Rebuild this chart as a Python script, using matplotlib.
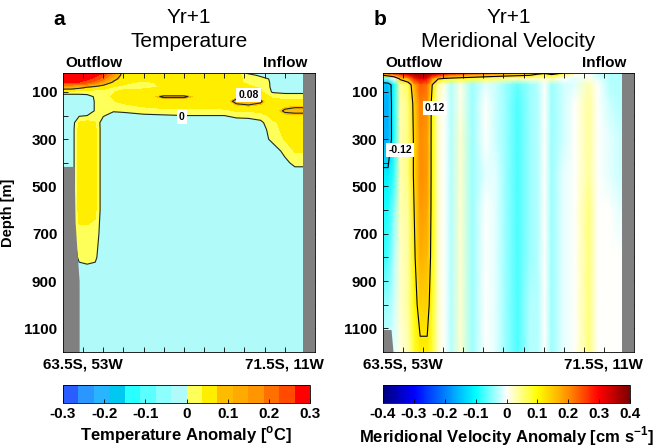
import matplotlib
matplotlib.use("Agg")
import matplotlib.pyplot as plt
import numpy as np
from matplotlib.colors import LinearSegmentedColormap

plt.rcParams['font.family'] = ['Liberation Sans', 'DejaVu Sans']
plt.rcParams['mathtext.fontset'] = 'custom'
plt.rcParams['mathtext.rm'] = 'Liberation Sans'
plt.rcParams['mathtext.bf'] = 'Liberation Sans:bold'

# ---- panel a: temperature anomaly section (station index vs depth) ----
temp_x = [0, 0.4, 0.8, 1.2, 1.6, 2.0, 2.5, 3.0, 4.0, 5.0, 6.0, 7.0, 8.0, 8.6, 9.2, 9.8, 10.4, 11.0, 11.5, 12.0]
temp_depth = [20, 30, 45, 60, 80, 100, 120, 140, 160, 180, 200, 230, 260, 300, 350, 400, 450, 500, 600, 700,
              800, 900, 1000, 1200]
temp_anom = [
    [0.29, 0.29, 0.29, 0.29, 0.29, 0.27, 0.18, 0.05, 0.06, 0.06, 0.06, 0.06, 0.05, 0.04, -0.01, -0.02, -0.02, -0.02, -0.02, -0.02],
    [0.29, 0.29, 0.29, 0.28, 0.27, 0.24, 0.15, 0.05, 0.06, 0.06, 0.06, 0.05, 0.05, 0.05, 0.02, -0.01, -0.02, -0.02, -0.02, -0.02],
    [0.28, 0.28, 0.28, 0.27, 0.25, 0.20, 0.10, 0.05, 0.05, 0.05, 0.05, 0.05, 0.045, 0.045, 0.03, 0.02, -0.01, -0.02, -0.02, -0.02],
    [0.27, 0.27, 0.26, 0.24, 0.20, 0.13, 0.07, 0.045, 0.03, 0.045, 0.05, 0.045, 0.04, 0.04, 0.035, 0.03, -0.01, -0.02, -0.02, -0.02],
    [0.12, 0.12, 0.10, 0.08, 0.06, 0.045, 0.035, 0.03, 0.03, 0.04, 0.045, 0.05, 0.05, 0.045, 0.04, 0.035, -0.01, -0.02, -0.02, -0.02],
    [0.02, 0.02, 0.02, 0.02, 0.02, 0.03, 0.035, 0.045, 0.05, 0.055, 0.055, 0.05, 0.05, 0.05, 0.045, 0.045, -0.005, -0.01, -0.01, -0.01],
    [-0.02, -0.02, -0.02, -0.015, 0.005, 0.03, 0.04, 0.05, 0.06, 0.085, 0.085, 0.06, 0.06, 0.07, 0.07, 0.06, 0.03, 0.02, 0.02, 0.02],
    [-0.02, -0.02, -0.02, -0.02, 0.003, 0.02, 0.035, 0.045, 0.05, 0.06, 0.06, 0.06, 0.06, 0.09, 0.095, 0.085, 0.05, 0.05, 0.05, 0.05],
    [-0.02, -0.02, -0.02, -0.02, 0.003, 0.015, 0.025, 0.03, 0.04, 0.045, 0.045, 0.045, 0.05, 0.07, 0.075, 0.07, 0.06, 0.07, 0.075, 0.075],
    [-0.02, -0.02, -0.02, -0.02, 0.003, 0.01, 0.005, 0.01, 0.025, 0.03, 0.03, 0.03, 0.03, 0.04, 0.04, 0.05, 0.06, 0.085, 0.09, 0.09],
    [-0.02, -0.02, -0.005, 0.0, 0.01, 0.005, -0.02, -0.02, -0.01, -0.005, 0.0, 0.0, 0.0, 0.01, 0.01, 0.02, 0.05, 0.07, 0.07, 0.07],
    [-0.02, -0.03, 0.04, 0.05, 0.04, -0.03, -0.02, -0.02, -0.02, -0.02, -0.02, -0.02, -0.02, -0.02, -0.015, -0.01, 0.03, 0.05, 0.06, 0.06],
    [-0.02, -0.03, 0.05, 0.05, 0.045, -0.03, -0.02, -0.02, -0.02, -0.02, -0.02, -0.02, -0.02, -0.02, -0.02, -0.02, 0.02, 0.05, 0.05, 0.05],
    [-0.02, -0.03, 0.05, 0.05, 0.045, -0.03, -0.02, -0.02, -0.02, -0.02, -0.02, -0.02, -0.02, -0.02, -0.02, -0.02, 0.01, 0.04, 0.05, 0.05],
    [-0.02, -0.03, 0.05, 0.05, 0.045, -0.03, -0.02, -0.02, -0.02, -0.02, -0.02, -0.02, -0.02, -0.02, -0.02, -0.02, -0.02, 0.01, 0.04, 0.04],
    [-0.02, -0.03, 0.05, 0.05, 0.045, -0.03, -0.02, -0.02, -0.02, -0.02, -0.02, -0.02, -0.02, -0.02, -0.02, -0.02, -0.02, -0.01, 0.01, 0.01],
    [-0.02, -0.03, 0.05, 0.05, 0.045, -0.03, -0.02, -0.02, -0.02, -0.02, -0.02, -0.02, -0.02, -0.02, -0.02, -0.02, -0.02, -0.02, -0.02, -0.02],
    [-0.02, -0.03, 0.05, 0.05, 0.045, -0.03, -0.02, -0.02, -0.02, -0.02, -0.02, -0.02, -0.02, -0.02, -0.02, -0.02, -0.02, -0.02, -0.02, -0.02],
    [-0.02, -0.03, 0.05, 0.05, 0.045, -0.03, -0.02, -0.02, -0.02, -0.02, -0.02, -0.02, -0.02, -0.02, -0.02, -0.02, -0.02, -0.02, -0.02, -0.02],
    [-0.02, -0.02, 0.03, 0.03, 0.025, -0.03, -0.02, -0.02, -0.02, -0.02, -0.02, -0.02, -0.02, -0.02, -0.02, -0.02, -0.02, -0.02, -0.02, -0.02],
    [-0.02, -0.02, 0.005, 0.008, 0.005, -0.02, -0.02, -0.02, -0.02, -0.02, -0.02, -0.02, -0.02, -0.02, -0.02, -0.02, -0.02, -0.02, -0.02, -0.02],
    [-0.02] * 20,
    [-0.02] * 20,
    [-0.02] * 20,
]
temp_colors = ['#2a5cff', '#2a96ff', '#28b4ff', '#00c8f0', '#28ffff', '#5affff', '#8effff', '#b0fafa',
               '#ffff5a', '#ffee00', '#ffbb00', '#ffaa00', '#ff9500', '#ff7000', '#ff4a00', '#ff0000']
temp_levels = np.linspace(-0.3, 0.3, 17)
temp_ticks = [-0.3, -0.2, -0.1, 0, 0.1, 0.2, 0.3]
temp_ticklabels = ['-0.3', '-0.2', '-0.1', '0', '0.1', '0.2', '0.3']
temp_contours = [0, 0.08]
temp_labels = [(9.2, 113, '0.08'), (5.9, 206, '0')]

# land masks (depth, x extent)
land_a_depth = [415, 650, 780, 900, 1200]
land_a_x = [0.55, 0.6, 0.7, 0.8, 0.8]

# ---- panel b: meridional velocity anomaly, column profiles ----
vel_x = [0.0, 0.25, 0.55, 0.85, 1.25, 1.55, 1.85, 2.2, 2.45, 2.75, 3.05, 3.4, 3.85, 4.45, 5.1, 5.6, 6.1, 6.7,
         7.3, 7.7, 8.05, 8.4, 8.95, 9.55, 10.25, 10.7, 11.3, 11.8, 12.1]
vel_depth = [20, 30, 45, 70, 150, 300, 450, 600, 800, 1000, 1200]
vel_cols = [
    [0.30, 0.12, -0.06, -0.15, -0.16, -0.16, -0.11, -0.09, -0.08, -0.04, -0.02],
    [0.32, 0.15, -0.05, -0.15, -0.16, -0.16, -0.11, -0.09, -0.07, -0.04, -0.02],
    [0.34, 0.20, 0.0, -0.09, -0.09, -0.09, -0.08, -0.05, -0.03, -0.02, -0.01],
    [0.36, 0.25, 0.13, 0.04, 0.03, 0.03, 0.03, 0.03, 0.02, 0.02, 0.01],
    [0.37, 0.30, 0.18, 0.07, 0.05, 0.05, 0.05, 0.04, 0.04, 0.04, 0.03],
    [0.38, 0.35, 0.28, 0.17, 0.14, 0.13, 0.13, 0.12, 0.11, 0.10, 0.08],
    [0.38, 0.36, 0.32, 0.24, 0.21, 0.20, 0.20, 0.19, 0.17, 0.14, 0.11],
    [0.38, 0.36, 0.30, 0.22, 0.20, 0.19, 0.19, 0.18, 0.16, 0.14, 0.11],
    [0.37, 0.32, 0.20, 0.12, 0.10, 0.10, 0.10, 0.10, 0.10, 0.09, 0.08],
    [0.36, 0.28, 0.12, 0.04, 0.02, 0.02, 0.02, 0.02, 0.02, 0.02, 0.02],
    [0.34, 0.25, 0.10, 0.01, 0.0, 0.0, 0.0, 0.0, 0.0, 0.0, 0.0],
    [0.32, 0.22, 0.09, -0.03, -0.03, -0.03, -0.03, -0.03, -0.03, -0.03, -0.03],
    [0.30, 0.20, 0.08, 0.01, 0.01, 0.02, 0.02, 0.02, 0.02, 0.02, 0.02],
    [0.27, 0.18, 0.07, -0.04, -0.04, -0.04, -0.04, -0.04, -0.04, -0.04, -0.04],
    [0.25, 0.16, 0.06, -0.01, 0.0, 0.0, -0.01, 0.0, 0.0, 0.0, 0.0],
    [0.22, 0.15, 0.05, -0.02, -0.02, -0.02, -0.01, -0.01, -0.01, -0.01, -0.01],
    [0.20, 0.14, 0.04, -0.04, -0.04, -0.04, -0.04, -0.04, -0.04, -0.04, -0.04],
    [0.18, 0.13, 0.03, -0.06, -0.07, -0.07, -0.07, -0.07, -0.07, -0.07, -0.07],
    [0.16, 0.12, 0.02, -0.04, -0.04, -0.04, -0.04, -0.04, -0.04, -0.03, -0.03],
    [0.14, 0.10, 0.02, -0.03, -0.03, -0.03, -0.03, -0.03, -0.03, -0.03, -0.03],
    [0.13, 0.08, 0.02, 0.0, 0.0, 0.0, 0.0, 0.0, 0.0, 0.0, 0.0],
    [0.16, 0.10, 0.03, -0.04, -0.04, -0.04, -0.04, -0.04, -0.04, -0.04, -0.04],
    [0.12, 0.05, 0.0, -0.02, -0.02, -0.02, -0.01, -0.01, -0.01, -0.01, -0.01],
    [0.03, 0.0, -0.01, -0.01, 0.0, 0.0, 0.0, 0.0, 0.0, 0.0, 0.0],
    [0.0, 0.0, 0.01, 0.03, 0.04, 0.04, 0.04, 0.05, 0.05, 0.05, 0.05],
    [-0.02, -0.02, -0.01, 0.0, 0.0, 0.0, 0.0, 0.0, 0.0, 0.0, 0.0],
    [-0.03, -0.03, -0.03, -0.03, -0.02, -0.01, -0.01, 0.0, 0.0, 0.0, 0.0],
    [-0.03, -0.03, -0.03, -0.03, -0.03, -0.02, -0.02, -0.01, 0.0, 0.0, 0.0],
    [-0.03, -0.03, -0.03, -0.03, -0.03, -0.02, -0.02, -0.01, 0.0, 0.0, 0.0],
]
vel_anchor_vals = [-0.4, -0.3, -0.2, -0.1, 0.0, 0.1, 0.2, 0.3, 0.4]
vel_anchor_cols = ['#00007f', '#0000ff', '#0080ff', '#00ffff', '#ffffff', '#ffff00', '#ff9000', '#ff0000', '#7f0000']
vel_ticks = [-0.4, -0.3, -0.2, -0.1, 0, 0.1, 0.2, 0.3, 0.4]
vel_ticklabels = ['-0.4', '-0.3', '-0.2', '-0.1', '0', '0.1', '0.2', '0.3', '0.4']
vel_contours = [-0.12, 0.12]
vel_labels = [(2.6, 168, '0.12'), (0.85, 347, '-0.12')]

land_b_depth = [1105, 1200]
land_b_x = [0.4, 0.5]

coast_x = 11.9  # eastern wall
x_ticks = list(range(1, 12))
x_ticklabels = ['63.5S, 53W'] + [''] * 9 + ['71.5S, 11W']
depth_major = [100, 300, 500, 700, 900, 1100]
depth_minor = [200, 400, 600, 800, 1000]

GRAY = '#808080'

fig = plt.figure(figsize=(6.58, 4.48), dpi=100)
ax_a = fig.add_axes([63 / 658, 96 / 448, 252 / 658, 279 / 448])
ax_b = fig.add_axes([383 / 658, 96 / 448, 251 / 658, 279 / 448])
cax_a = fig.add_axes([63 / 658, 45 / 448, 247 / 658, 18 / 448])
cax_b = fig.add_axes([383 / 658, 45 / 448, 247 / 658, 18 / 448])

# panel a
cf = ax_a.contourf(temp_x, temp_depth, np.array(temp_anom), levels=temp_levels, colors=temp_colors)
ax_a.contour(temp_x, temp_depth, np.array(temp_anom), levels=temp_contours, colors='#1a2a2a',
             linewidths=0.8, linestyles='solid')
ax_a.fill_betweenx(land_a_depth, 0, land_a_x, color=GRAY, lw=0, zorder=3)
for x, d, s in temp_labels:
    ax_a.text(x, d, s, ha='center', va='center', fontsize=7.5, fontweight='bold', zorder=5,
              bbox=dict(facecolor='white', edgecolor='none', pad=1.5))

# panel b
cmap_b = LinearSegmentedColormap.from_list(
    'vel', [((v + 0.4) / 0.8, c) for v, c in zip(vel_anchor_vals, vel_anchor_cols)])
vel = np.array(vel_cols).T
pm = ax_b.pcolormesh(vel_x, vel_depth, vel, shading='gouraud', cmap=cmap_b, vmin=-0.4, vmax=0.4)
ax_b.contour(vel_x, vel_depth, vel, levels=vel_contours, colors='k', linewidths=0.8, linestyles='solid')
ax_b.fill_betweenx(land_b_depth, 0, land_b_x, color=GRAY, lw=0, zorder=3)
for x, d, s in vel_labels:
    ax_b.text(x, d, s, ha='center', va='center', fontsize=7.5, fontweight='bold', zorder=5,
              bbox=dict(facecolor='white', edgecolor='none', pad=1.5))

for ax, title, letter in [(ax_a, 'Yr+1\nTemperature', 'a'), (ax_b, 'Yr+1\nMeridional Velocity', 'b')]:
    ax.axvspan(coast_x, 12.5, color=GRAY, lw=0, zorder=3)
    ax.set_xlim(0, 12.5)
    ax.set_ylim(1200, 20)
    ax.set_xticks(x_ticks)
    ax.set_xticklabels(x_ticklabels, fontsize=11, fontweight='bold')
    ax.set_yticks(depth_major)
    ax.set_yticks(depth_minor, minor=True)
    ax.set_yticklabels([str(d) for d in depth_major], fontsize=11, fontweight='bold')
    ax.tick_params(which='both', direction='in', top=True, right=True, length=3.5, width=0.6, pad=4)
    for sp in ax.spines.values():
        sp.set_linewidth(0.6)
        sp.set_zorder(6)
    ax.set_title(title, fontsize=15, pad=19, linespacing=1.3)
    ax.text(0.008, 1.02, 'Outflow', transform=ax.transAxes, ha='left', va='baseline',
            fontsize=11, fontweight='bold')
    ax.text(0.97, 1.02, 'Inflow', transform=ax.transAxes, ha='right', va='baseline',
            fontsize=11, fontweight='bold')
    pos = ax.get_position()
    fig.text(pos.x0 - 0.015, 0.945, letter, fontsize=15, fontweight='bold', ha='left', va='baseline')

ax_a.set_ylabel('Depth [m]', fontsize=10.5, fontweight='bold')
ax_a.yaxis.set_label_coords(-0.19, 0.5)

cb_a = fig.colorbar(cf, cax=cax_a, orientation='horizontal', ticks=temp_ticks)
cb_a.ax.set_xticklabels(temp_ticklabels, fontsize=11, fontweight='bold')
cb_a.set_label(r'Temperature Anomaly [$^{\mathbf{o}}$C]', fontsize=12, fontweight='bold', labelpad=2)

cb_b = fig.colorbar(pm, cax=cax_b, orientation='horizontal', ticks=vel_ticks)
cb_b.ax.set_xticklabels(vel_ticklabels, fontsize=11, fontweight='bold')
cb_b.set_label(r'Meridional Velocity Anomaly [cm s$^{\mathbf{-1}}$]', fontsize=12, fontweight='bold', labelpad=2)

for cb in (cb_a, cb_b):
    cb.ax.tick_params(direction='in', length=3, width=0.6, pad=3)
    cb.outline.set_linewidth(0.6)

fig.savefig('out.png', dpi=100)
